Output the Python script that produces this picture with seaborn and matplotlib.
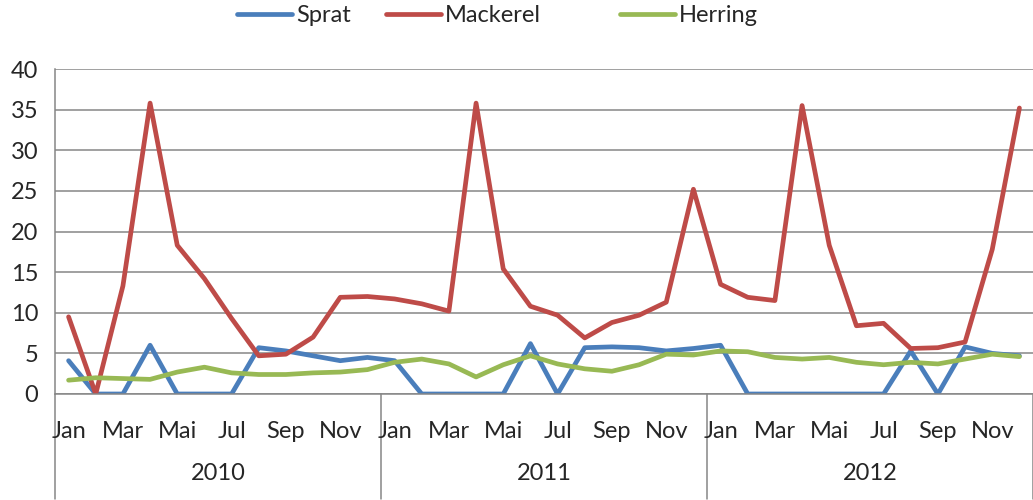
import matplotlib
matplotlib.use("Agg")
import matplotlib.pyplot as plt
import matplotlib.transforms as mtransforms
import seaborn as sns
import pandas as pd

years = ["2010", "2011", "2012"]
months = ["Jan", "Feb", "Mar", "Apr", "Mai", "Jun", "Jul", "Aug", "Sep", "Okt", "Nov", "Dez"]

sprat = [4.1, 0, 0, 6.0, 0, 0, 0, 5.7, 5.3, 4.7, 4.1, 4.5,
         4.1, 0, 0, 0, 0, 6.2, 0, 5.7, 5.8, 5.7, 5.3, 5.6,
         6.0, 0, 0, 0, 0, 0, 0, 5.3, 0, 5.8, 5.0, 4.7]
mackerel = [9.5, 0, 13.3, 35.8, 18.3, 14.2, 9.3, 4.7, 4.9, 7.0, 11.9, 12.0,
            11.7, 11.1, 10.2, 35.8, 15.4, 10.8, 9.7, 6.9, 8.8, 9.7, 11.3, 25.2,
            13.5, 11.9, 11.5, 35.5, 18.3, 8.4, 8.7, 5.6, 5.7, 6.4, 17.8, 35.2]
herring = [1.7, 2.0, 1.9, 1.8, 2.7, 3.3, 2.6, 2.4, 2.4, 2.6, 2.7, 3.0,
           3.9, 4.3, 3.7, 2.1, 3.6, 4.7, 3.7, 3.1, 2.8, 3.6, 4.9, 4.8,
           5.3, 5.2, 4.5, 4.3, 4.5, 3.9, 3.6, 3.9, 3.7, 4.3, 4.9, 4.6]

n = len(sprat)
idx = list(range(n))
df = pd.DataFrame({"idx": idx * 3,
                   "value": sprat + mackerel + herring,
                   "species": ["Sprat"] * n + ["Mackerel"] * n + ["Herring"] * n})

palette = {"Sprat": "#4A7EBB", "Mackerel": "#BE4B48", "Herring": "#98B954"}
fs = 17
grey = "#868686"

sns.set_style("white")
plt.rcParams["font.family"] = ["Lato", "DejaVu Sans"]

fig = plt.figure(figsize=(10.33, 5.0), dpi=100)
ax = fig.add_axes([55 / 1033, 1 - 394 / 500, 1 - 55 / 1033, (394 - 69) / 500])

sns.lineplot(data=df, x="idx", y="value", hue="species", palette=palette,
             linewidth=3.4, ax=ax, legend=False)

ax.set_xlim(-0.5, n - 0.5)
ax.set_ylim(0, 40)
ax.set_yticks(range(0, 41, 5))
ax.yaxis.grid(True, color=grey, linewidth=1.1)
ax.set_axisbelow(True)
for s in ["top", "right", "bottom"]:
    ax.spines[s].set_visible(False)
ax.spines["left"].set_color(grey)
ax.spines["left"].set_linewidth(1.1)
ax.tick_params(axis="y", length=7, color=grey, width=1.1, labelsize=fs, pad=5)
ax.set_xlabel("")
ax.set_ylabel("")

# category ticks between months
ax.set_xticks([])
ax.set_xticks([i - 0.5 for i in range(n + 1)], minor=True)
ax.tick_params(axis="x", which="minor", length=37, color=grey, width=1.1)

trans = mtransforms.blended_transform_factory(ax.transData, fig.transFigure)
# month labels, every other month
for i in idx:
    if i % 2 == 0:
        ax.text(i, 1 - 432 / 500, months[i % 12], transform=trans, ha="center",
                va="center", fontsize=fs)
# year separators and labels
for k in range(len(years) + 1):
    x = k * 12 - 0.5
    ax.plot([x, x], [1 - 394 / 500, 1 - 499 / 500], color=grey, lw=1.1,
            transform=trans, clip_on=False)
for k, y in enumerate(years):
    ax.text(k * 12 + 5.5, 1 - 474 / 500, y, transform=trans, ha="center",
            va="center", fontsize=fs)
ax.plot([-0.5, n - 0.5], [0, 0], color=grey, lw=1.1, clip_on=False)

# legend entries placed like the original
for name, x0 in [("Sprat", 237), ("Mackerel", 386), ("Herring", 620)]:
    h = plt.Line2D([], [], color=palette[name], lw=3.4)
    fig.legend([h], [name], loc="center left", bbox_to_anchor=(x0 / 1033, 1 - 16 / 500),
               frameon=False, fontsize=fs, handlelength=2.33, handletextpad=0.17,
               borderpad=0, borderaxespad=0)

fig.savefig("out.png", dpi=100)
